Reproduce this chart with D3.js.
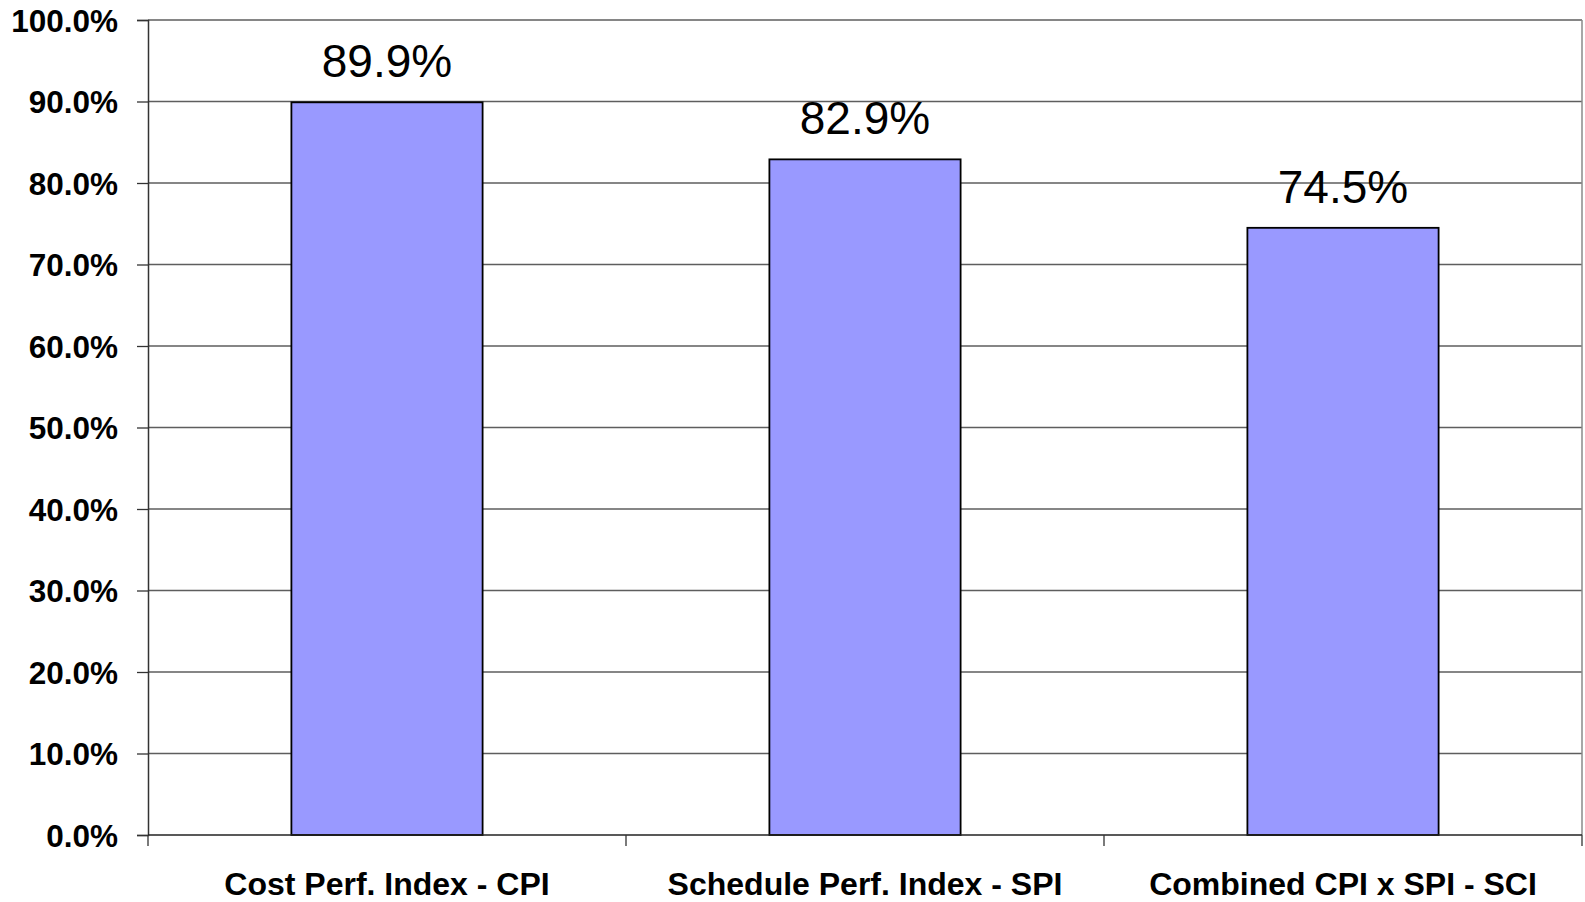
<!DOCTYPE html>
<html>
<head>
<meta charset="utf-8">
<script src="https://cdn.jsdelivr.net/npm/d3@7"></script>
<style>
  body { margin: 0; background: #fff; }
  text { font-family: "Liberation Sans", Arial, Helvetica, sans-serif; }
</style>
</head>
<body>
<script>
var width = 1585;
var height = 902;

// data
var categories = ['Cost Perf. Index - CPI', 'Schedule Perf. Index - SPI', 'Combined CPI x SPI - SCI'];
var values = [0.899, 0.829, 0.745];
var yTicks = [0, 0.1, 0.2, 0.3, 0.4, 0.5, 0.6, 0.7, 0.8, 0.9, 1.0];

var margin = {top: 20, right: 3, bottom: 67, left: 148};
var plotW = width - margin.left - margin.right;
var plotH = height - margin.top - margin.bottom;

var svg = d3.select('body')
  .append('svg')
  .attr('width', width)
  .attr('height', height);

var g = svg.append('g')
  .attr('transform', 'translate(' + margin.left + ',' + margin.top + ')');

var x = d3.scaleBand()
  .domain(categories)
  .range([0, plotW])
  .paddingInner(0.6)
  .paddingOuter(0.3);

// band for category ticks (no padding)
var xCat = d3.scaleBand().domain(categories).range([0, plotW]);

var y = d3.scaleLinear().domain([0, 1]).range([plotH, 0]);

// gridlines
g.selectAll('.grid')
  .data(yTicks.slice(1))
  .enter().append('line')
  .attr('x1', 0)
  .attr('x2', plotW)
  .attr('y1', function(d) { return y(d); })
  .attr('y2', function(d) { return y(d); })
  .attr('stroke', '#5e5e5e')
  .attr('stroke-width', 1.3);

// right border
g.append('line')
  .attr('x1', plotW).attr('x2', plotW)
  .attr('y1', 0).attr('y2', plotH)
  .attr('stroke', '#8a8a8a')
  .attr('stroke-width', 1.5);

// bars
g.selectAll('.bar')
  .data(values)
  .enter().append('rect')
  .attr('x', function(d, i) { return x(categories[i]); })
  .attr('y', function(d) { return y(d); })
  .attr('width', x.bandwidth())
  .attr('height', function(d) { return plotH - y(d); })
  .attr('fill', '#9999ff')
  .attr('stroke', '#000')
  .attr('stroke-width', 1.8);

// value labels
g.selectAll('.vlabel')
  .data(values)
  .enter().append('text')
  .attr('x', function(d, i) { return x(categories[i]) + x.bandwidth() / 2; })
  .attr('y', function(d) { return y(d) - 25; })
  .attr('text-anchor', 'middle')
  .attr('font-size', 46)
  .attr('fill', '#000')
  .text(function(d) { return d3.format('.1%')(d); });

// y axis
var yAxis = d3.axisLeft(y)
  .tickValues(yTicks)
  .tickSize(11)
  .tickPadding(19)
  .tickFormat(d3.format('.1%'));

var ya = g.append('g').call(yAxis);
ya.select('.domain').attr('stroke', '#333').attr('stroke-width', 1.5);
ya.selectAll('.tick line').attr('stroke', '#333').attr('stroke-width', 1.3);
ya.selectAll('.tick text')
  .attr('font-size', 31.5)
  .attr('font-weight', 'bold')
  .attr('fill', '#000')
  .attr('dy', '0.35em');

// x axis baseline + category ticks
g.append('line')
  .attr('x1', 0).attr('x2', plotW)
  .attr('y1', plotH).attr('y2', plotH)
  .attr('stroke', '#222')
  .attr('stroke-width', 1.5);

var tickPos = categories.map(function(c) { return xCat(c); }).concat([plotW]);
g.selectAll('.xtick')
  .data(tickPos)
  .enter().append('line')
  .attr('x1', function(d) { return d; })
  .attr('x2', function(d) { return d; })
  .attr('y1', plotH)
  .attr('y2', plotH + 11)
  .attr('stroke', '#333')
  .attr('stroke-width', 1.3);

g.selectAll('.xlabel')
  .data(categories)
  .enter().append('text')
  .attr('x', function(d) { return xCat(d) + xCat.bandwidth() / 2; })
  .attr('y', plotH + 60)
  .attr('text-anchor', 'middle')
  .attr('font-size', 32)
  .attr('font-weight', 'bold')
  .attr('fill', '#000')
  .text(function(d) { return d; });
</script>
</body>
</html>
